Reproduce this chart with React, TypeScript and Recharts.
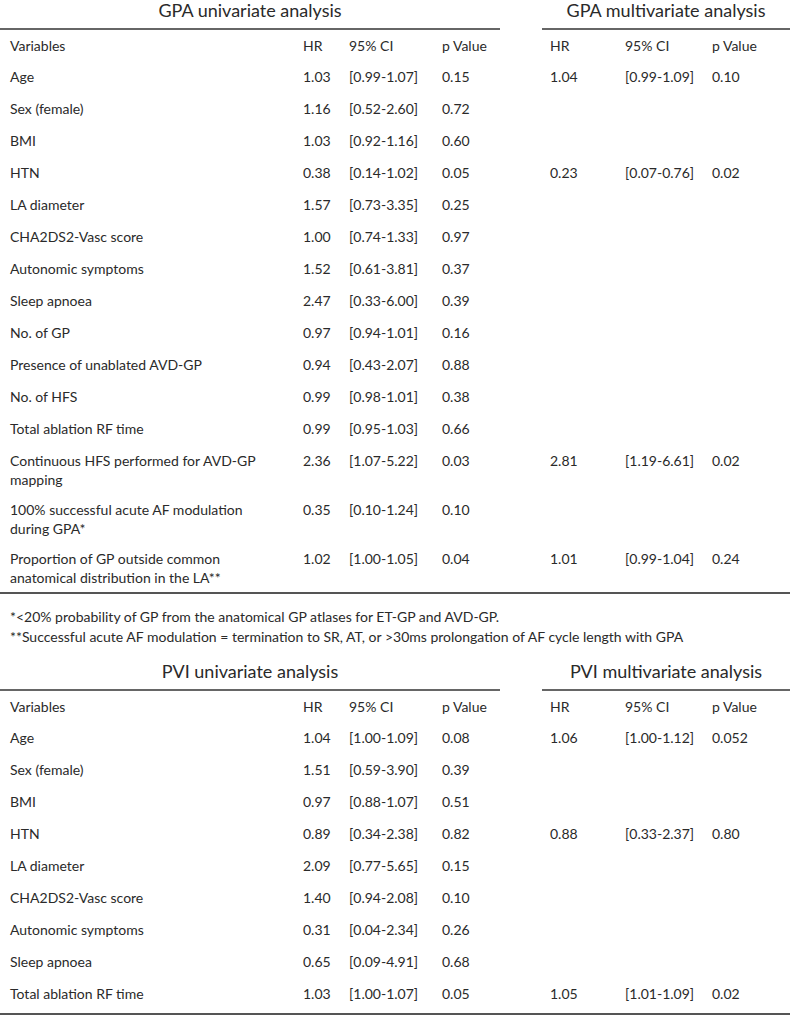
import React from 'react';
import { Surface, Layer, Text } from 'recharts';

// GPA table
const gpaVariables = [
  'Age',
  'Sex (female)',
  'BMI',
  'HTN',
  'LA diameter',
  'CHA2DS2-Vasc score',
  'Autonomic symptoms',
  'Sleep apnoea',
  'No. of GP',
  'Presence of unablated AVD-GP',
  'No. of HFS',
  'Total ablation RF time',
  'Continuous HFS performed for AVD-GP\nmapping',
  '100% successful acute AF modulation\nduring GPA*',
  'Proportion of GP outside common\nanatomical distribution in the LA**',
];
const gpaUniHR = ['1.03', '1.16', '1.03', '0.38', '1.57', '1.00', '1.52', '2.47', '0.97', '0.94', '0.99', '0.99', '2.36', '0.35', '1.02'];
const gpaUniCI = [
  '[0.99-1.07]', '[0.52-2.60]', '[0.92-1.16]', '[0.14-1.02]', '[0.73-3.35]', '[0.74-1.33]', '[0.61-3.81]', '[0.33-6.00]',
  '[0.94-1.01]', '[0.43-2.07]', '[0.98-1.01]', '[0.95-1.03]', '[1.07-5.22]', '[0.10-1.24]', '[1.00-1.05]',
];
const gpaUniP = ['0.15', '0.72', '0.60', '0.05', '0.25', '0.97', '0.37', '0.39', '0.16', '0.88', '0.38', '0.66', '0.03', '0.10', '0.04'];
const gpaMultiHR = ['1.04', '', '', '0.23', '', '', '', '', '', '', '', '', '2.81', '', '1.01'];
const gpaMultiCI = ['[0.99-1.09]', '', '', '[0.07-0.76]', '', '', '', '', '', '', '', '', '[1.19-6.61]', '', '[0.99-1.04]'];
const gpaMultiP = ['0.10', '', '', '0.02', '', '', '', '', '', '', '', '', '0.02', '', '0.24'];

// PVI table
const pviVariables = [
  'Age',
  'Sex (female)',
  'BMI',
  'HTN',
  'LA diameter',
  'CHA2DS2-Vasc score',
  'Autonomic symptoms',
  'Sleep apnoea',
  'Total ablation RF time',
];
const pviUniHR = ['1.04', '1.51', '0.97', '0.89', '2.09', '1.40', '0.31', '0.65', '1.03'];
const pviUniCI = ['[1.00-1.09]', '[0.59-3.90]', '[0.88-1.07]', '[0.34-2.38]', '[0.77-5.65]', '[0.94-2.08]', '[0.04-2.34]', '[0.09-4.91]', '[1.00-1.07]'];
const pviUniP = ['0.08', '0.39', '0.51', '0.82', '0.15', '0.10', '0.26', '0.68', '0.05'];
const pviMultiHR = ['1.06', '', '', '0.88', '', '', '', '', '1.05'];
const pviMultiCI = ['[1.00-1.12]', '', '', '[0.33-2.37]', '', '', '', '', '[1.01-1.09]'];
const pviMultiP = ['0.052', '', '', '0.80', '', '', '', '', '0.02'];

const headers = ['Variables', 'HR', '95% CI', 'p Value', 'HR', '95% CI', 'p Value'];
const footnotes = [
  '*<20% probability of GP from the anatomical GP atlases for ET-GP and AVD-GP.',
  '**Successful acute AF modulation = termination to SR, AT, or >30ms prolongation of AF cycle length with GPA',
];

const WIDTH = 790;
const HEIGHT = 1016;
const FONT = 'Lato, "Open Sans", sans-serif';
const TEXT_COLOR = '#2a2a2a';
const COLS = [10, 303, 349, 442, 550, 625, 712];
const LEFT_END = 500;
const RIGHT_START = 542;
const ROW_STEP = 32;
const LINE_STEP = 19;

interface BlockProps {
  top: number;
  name: string;
  variables: string[];
  cols: string[][];
}

const cell = (x: number, y: number, s: string, key: string, size = 14) => (
  <Text key={key} x={x} y={y} verticalAnchor="middle" textAnchor="start"
    style={{ fontFamily: FONT, fontSize: size, fill: TEXT_COLOR }}>
    {s}
  </Text>
);

const TableBlock = ({ top, name, variables, cols }: BlockProps) => {
  const lineY = top + 18;
  const headY = lineY + 17;
  let y = headY + 31;
  const rows: React.ReactNode[] = [];
  variables.forEach((v, i) => {
    const lines = v.split('\n');
    lines.forEach((ln, j) => rows.push(cell(COLS[0], y + j * LINE_STEP, ln, `v${i}-${j}`)));
    cols.forEach((c, k) => {
      if (c[i]) rows.push(cell(COLS[k + 1], y, c[i], `c${i}-${k}`));
    });
    y += ROW_STEP + (lines.length - 1) * 17;
  });
  const bottom = y - ROW_STEP + (variables[variables.length - 1].includes('\n') ? 17 : 20);
  const titleStyle = { fontFamily: FONT, fontSize: 18, fill: TEXT_COLOR };
  return (
    <Layer>
      <Text x={LEFT_END / 2} y={top} textAnchor="middle" verticalAnchor="middle" style={titleStyle}>
        {`${name} univariate analysis`}
      </Text>
      <Text x={(RIGHT_START + WIDTH) / 2} y={top} textAnchor="middle" verticalAnchor="middle" style={titleStyle}>
        {`${name} multivariate analysis`}
      </Text>
      <line x1={0} x2={LEFT_END} y1={lineY} y2={lineY} stroke="#333" strokeWidth={1.5} />
      <line x1={RIGHT_START} x2={WIDTH} y1={lineY} y2={lineY} stroke="#333" strokeWidth={1.5} />
      {headers.map((h, k) => cell(COLS[k], headY, h, `h${k}`))}
      {rows}
      <line x1={0} x2={WIDTH} y1={bottom} y2={bottom} stroke="#555" strokeWidth={2} />
    </Layer>
  );
};

export default function App() {
  return (
    <div style={{ width: WIDTH, height: HEIGHT, background: '#fff' }}>
      <style>{'body{margin:0}'}</style>
      <Surface width={WIDTH} height={HEIGHT}>
        <TableBlock top={11} name="GPA" variables={gpaVariables}
          cols={[gpaUniHR, gpaUniCI, gpaUniP, gpaMultiHR, gpaMultiCI, gpaMultiP]} />
        {footnotes.map((f, i) => cell(10, 617 + i * 20, f, `f${i}`))}
        <TableBlock top={672} name="PVI" variables={pviVariables}
          cols={[pviUniHR, pviUniCI, pviUniP, pviMultiHR, pviMultiCI, pviMultiP]} />
      </Surface>
    </div>
  );
}
